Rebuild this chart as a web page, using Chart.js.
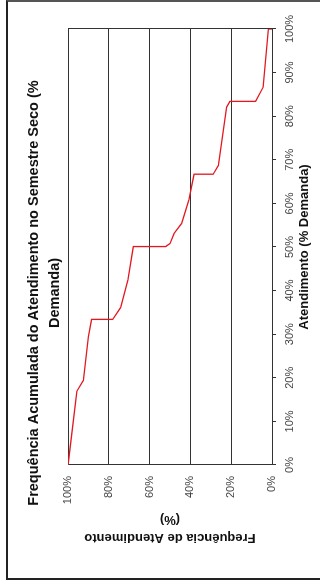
<!DOCTYPE html>
<html lang="pt">
<head>
<meta charset="UTF-8">
<title>Frequência Acumulada do Atendimento no Semestre Seco</title>
<script src="https://cdn.jsdelivr.net/npm/chart.js@4.4.1/dist/chart.umd.min.js"></script>
<style>
    html, body { margin: 0; padding: 0; background: #fff; overflow: hidden; }
    /* marco exterior del grafico */
    #marco {
        position: absolute; left: 6px; top: 0; width: 400px; height: 580px;
        box-sizing: border-box;
        border-left: 2px solid #222; border-top: 2px solid #555; border-bottom: 2px solid #222;
    }
    /* el grafico original esta girado 90 grados */
    #contenedor {
        position: absolute; left: 0; top: 586px; width: 586px; height: 320px;
        transform-origin: 0 0; transform: rotate(-90deg);
    }
</style>
</head>
<body>
<div id="marco"></div>
<div id="contenedor"><canvas id="graficoFrequencia" width="586" height="320"></canvas></div>
<script>
// Datos
const atendimento = [0, 16.9, 19.4, 29.4, 33.4, 33.4, 36.1, 42.4, 50.1, 50.1, 50.8, 53.1, 55.4, 60.8, 66.7, 66.7, 68.7, 82.1, 83.4, 83.4, 86.7, 100, 100];
const frequencia = [100, 95.7, 92.5, 90, 88.4, 78.1, 74.2, 70.7, 68, 52.1, 50, 48, 44.3, 40.7, 38.2, 28.8, 26.3, 22.2, 20.6, 8, 4.3, 1.8, 0];
const ticksAtendimento = [0, 10, 20, 30, 40, 50, 60, 70, 80, 90, 100];
const ticksFrequencia = [0, 20, 40, 60, 80, 100];

document.addEventListener("DOMContentLoaded", () => {
    const grafico = document.getElementById("graficoFrequencia").getContext("2d");
    const fuente = "'Liberation Sans', Arial, sans-serif";

    // Puntos (x, y) para la linea
    const puntos = atendimento.map((a, i) => ({ x: a, y: frequencia[i] }));

    new Chart(grafico, {
        type: 'line',
        data: {
            datasets: [{
                data: puntos,
                borderColor: '#e3171f',
                borderWidth: 1.3,
                pointRadius: 0,
                tension: 0
            }]
        },
        options: {
            responsive: false,
            animation: false,
            layout: { padding: { left: 29, right: 29, top: 0, bottom: 0 } },
            plugins: {
                legend: { display: false },
                tooltip: { enabled: false },
                title: {
                    display: true,
                    text: ['Frequência Acumulada do Atendimento no Semestre Seco (%', 'Demanda)'],
                    color: '#111',
                    font: { family: fuente, size: 14.5, weight: 'bold', lineHeight: 21 / 14.5 },
                    padding: { top: 23.5, bottom: 2.5 }
                }
            },
            scales: {
                x: {
                    type: 'linear',
                    min: 0,
                    max: 100,
                    afterBuildTicks: (escala) => { escala.ticks = ticksAtendimento.map(v => ({ value: v })); },
                    afterFit: (escala) => { escala.height = 48; },
                    ticks: {
                        callback: v => v + '%',
                        color: '#444',
                        font: { family: fuente, size: 11 },
                        padding: 7,
                        maxRotation: 0
                    },
                    grid: {
                        // solo la linea del 100% (borde derecho)
                        color: c => (c.tick && c.tick.value === 100) ? '#333' : 'rgba(0,0,0,0)',
                        tickColor: '#333',
                        tickLength: 4,
                        drawTicks: true
                    },
                    border: { display: true, color: '#333' },
                    title: {
                        display: true,
                        text: 'Atendimento (% Demanda)',
                        color: '#111',
                        font: { family: fuente, size: 13, weight: 'bold' },
                        padding: { top: 0, bottom: 8 }
                    }
                },
                y: {
                    min: 0,
                    max: 100,
                    afterBuildTicks: (escala) => { escala.ticks = ticksFrequencia.map(v => ({ value: v })); },
                    afterFit: (escala) => { escala.width = 92; },
                    ticks: {
                        callback: v => v + '%',
                        color: '#444',
                        font: { family: fuente, size: 11 },
                        padding: 11
                    },
                    grid: { color: '#333', drawTicks: false },
                    border: { display: true, color: '#333' },
                    title: {
                        display: true,
                        text: ['Frequência de Atendimento', '(%)'],
                        color: '#111',
                        font: { family: fuente, size: 13, weight: 'bold', lineHeight: 18 / 13 },
                        padding: { top: 10, bottom: 7 }
                    }
                }
            }
        }
    });
});
</script>
</body>
</html>
